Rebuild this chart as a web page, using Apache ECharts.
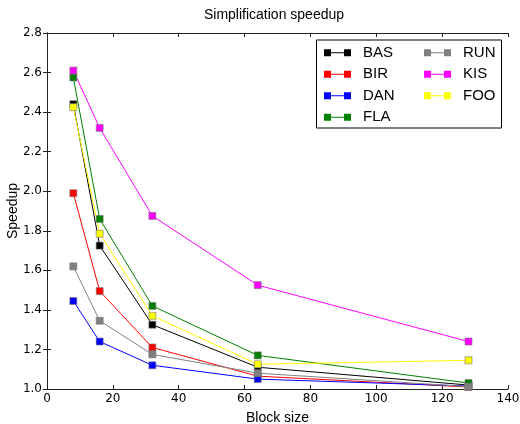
<!DOCTYPE html>
<html><head><meta charset="utf-8">
<script src="https://cdn.jsdelivr.net/npm/echarts@6/dist/echarts.min.js"></script>
<style>html,body{margin:0;padding:0;background:#fff}#c{width:520px;height:424px}</style>
</head><body><div id="c"></div>
<script>
const blockSizes = [8, 16, 32, 64, 128];
const BAS = [2.44, 1.725, 1.325, 1.11, 1.02];
const BIR = [1.99, 1.495, 1.21, 1.065, 1.01];
const DAN = [1.445, 1.24, 1.12, 1.05, 1.015];
const FLA = [2.575, 1.86, 1.42, 1.17, 1.03];
const RUN = [1.62, 1.345, 1.175, 1.08, 1.012];
const KIS = [2.61, 2.32, 1.875, 1.525, 1.24];
const FOO = [2.425, 1.785, 1.37, 1.125, 1.145];
const seriesNames = ['BAS','BIR','DAN','FLA','RUN','KIS','FOO'];
const seriesData = [BAS, BIR, DAN, FLA, RUN, KIS, FOO];
const colors = ['#000000','#ff0000','#0000ff','#008000','#808080','#ff00ff','#ffff00'];

const tickFont = 'DejaVu Sans';
const labelFont = 'Liberation Sans';
const chart = echarts.init(document.getElementById('c'));
const icon = 'path://M0,0h7v7h-7z M7,3h13v1h-13z M20,0h7v7h-7z';
const axisCommon = {
  axisLine: {show: true, lineStyle: {color: '#222', width: 1}},
  axisTick: {show: true, inside: true, length: 4, lineStyle: {color: '#222'}},
  splitLine: {show: false}
};
const legendCommon = {
  orient: 'vertical', top: 44, itemWidth: 27, itemHeight: 7, itemGap: 4,
  icon: icon, padding: 0, z: 10,
  itemStyle: {borderWidth: 0},
  textStyle: {fontFamily: labelFont, fontSize: 15, color: '#000', lineHeight: 17.5, padding: [0, 0, 0, 7]}
};
chart.setOption({
  animation: false,
  title: {text: 'Simplification speedup', left: 269, top: 3, textAlign: 'center',
    textStyle: {fontFamily: labelFont, fontSize: 14, fontWeight: 'normal', color: '#000'}},
  grid: {left: 47, right: 12, top: 33, bottom: 35, containLabel: false, outerBoundsMode: 'none'},
  graphic: [{type: 'rect', left: 316, top: 39.5, z: 9,
    shape: {width: 185, height: 88},
    style: {fill: '#fff', stroke: '#000', lineWidth: 1}}],
  legend: [
    Object.assign({left: 324, data: seriesNames.slice(0, 4)}, legendCommon),
    Object.assign({left: 424, data: seriesNames.slice(4)}, legendCommon)
  ],
  xAxis: [
    Object.assign({type: 'value', min: 0, max: 140, interval: 20, position: 'bottom',
      name: 'Block size', nameLocation: 'middle', nameGap: 22,
      nameTextStyle: {fontFamily: labelFont, fontSize: 14, color: '#000'},
      axisLabel: {fontFamily: tickFont, fontSize: 12, color: '#000', margin: 4}}, axisCommon),
    Object.assign({type: 'value', min: 0, max: 140, interval: 20, position: 'top',
      axisLabel: {show: false}}, axisCommon)
  ],
  yAxis: [
    Object.assign({type: 'value', min: 1.0, max: 2.8, interval: 0.2, position: 'left',
      name: 'Speedup', nameLocation: 'middle', nameGap: 27, nameMoveOverlap: false,
      nameTextStyle: {fontFamily: labelFont, fontSize: 14, color: '#000'},
      axisLabel: {fontFamily: tickFont, fontSize: 12, color: '#000', margin: 5,
        formatter: v => v.toFixed(1)}}, axisCommon),
    Object.assign({type: 'value', min: 1.0, max: 2.8, interval: 0.2, position: 'right',
      axisLabel: {show: false}}, axisCommon)
  ],
  series: seriesNames.map((n, i) => ({
    name: n, type: 'line',
    data: blockSizes.map((x, j) => [x, seriesData[i][j]]),
    symbol: 'rect', symbolSize: 7,
    lineStyle: {color: colors[i], width: 1},
    itemStyle: {color: colors[i], borderColor: '#777', borderWidth: 0.6},
    emphasis: {disabled: true}
  }))
});
</script></body></html>
